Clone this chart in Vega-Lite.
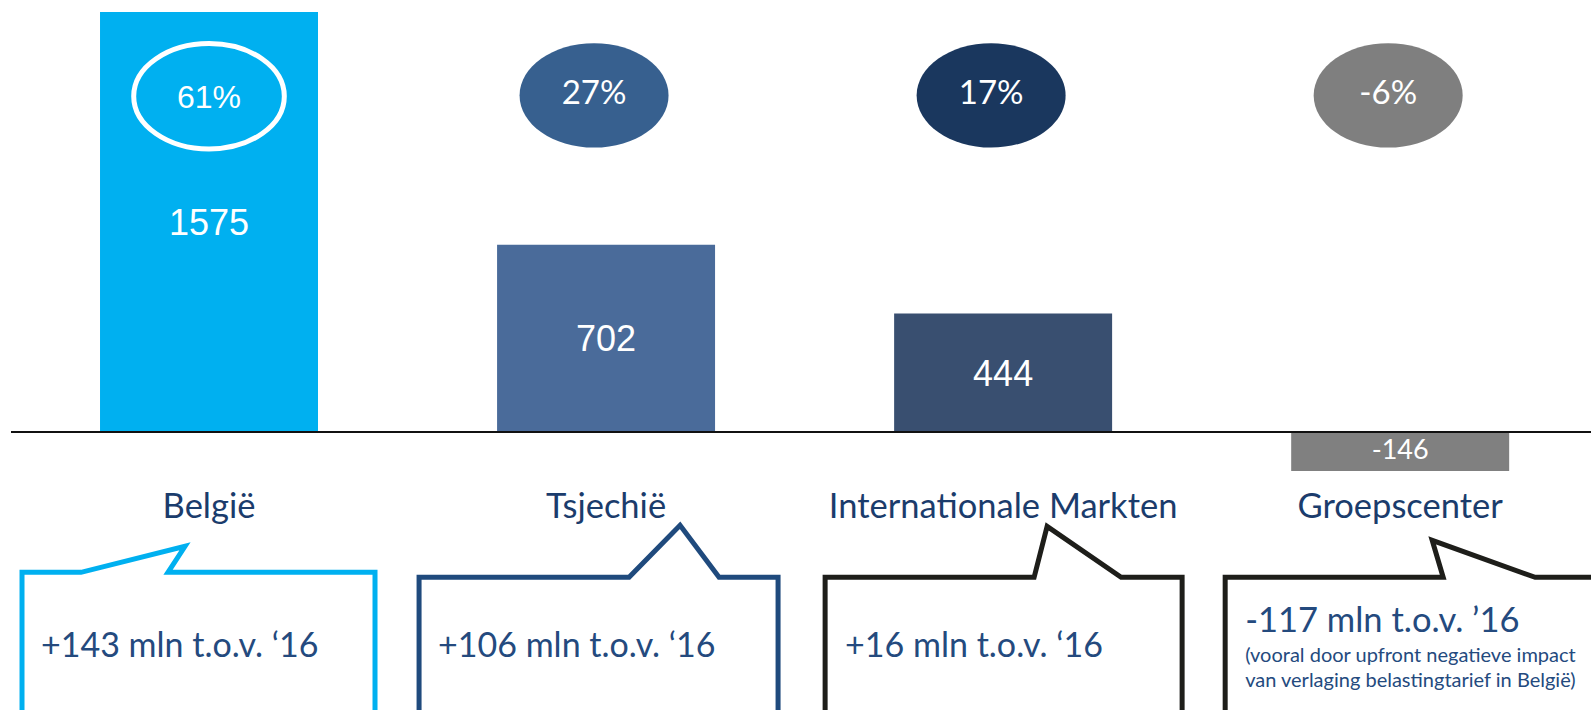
{
  "$schema": "https://vega.github.io/schema/vega-lite/v6.json",
  "width": 1591,
  "height": 710,
  "autosize": {"type": "none"},
  "padding": 0,
  "background": "white",
  "config": {"view": {"stroke": null}},
  "data": {"values": [
    {"cat": "België", "value": 1575, "share": "61%", "change": "+143 mln t.o.v. ‘16", "note": ""},
    {"cat": "Tsjechië", "value": 702, "share": "27%", "change": "+106 mln t.o.v. ‘16", "note": ""},
    {"cat": "Internationale Markten", "value": 444, "share": "17%", "change": "+16 mln t.o.v. ‘16", "note": ""},
    {"cat": "Groepscenter", "value": -146, "share": "-6%", "change": "-117 mln t.o.v. ’16", "note": "(vooral door upfront negatieve impact\nvan verlaging belastingtarief in België)"}
  ]},
  "transform": [{"calculate": "datum.value / 2", "as": "mid"}],
  "encoding": {
    "x": {"field": "cat", "type": "nominal", "axis": null, "scale": {"domain": ["België", "Tsjechië", "Internationale Markten", "Groepscenter"], "paddingInner": 0.451, "paddingOuter": 0.229, "align": 0.55}}
  },
  "layer": [
    {
      "mark": {"type": "bar"},
      "encoding": {
        "y": {"field": "value", "type": "quantitative", "axis": null, "scale": {"domain": [-1042.5, 1620], "nice": false, "zero": false}},
        "y2": {"datum": 0},
        "color": {"field": "cat", "type": "nominal", "legend": null, "scale": {"domain": ["België", "Tsjechië", "Internationale Markten", "Groepscenter"], "range": ["#00B0F0", "#4A6B9A", "#394F70", "#808080"]}}
      }
    },
    {
      "data": {"values": [{"v": 0}]},
      "mark": {"type": "rule", "color": "#111111", "strokeWidth": 2},
      "encoding": {
        "x": {"value": 11},
        "x2": {"value": 1591},
        "y": {"field": "v", "type": "quantitative", "axis": null, "scale": {"domain": [-1042.5, 1620], "nice": false, "zero": false}}
      }
    },
    {
      "transform": [{"filter": "datum.value > 0"}],
      "mark": {"type": "text", "font": "Liberation Sans", "fontSize": 36, "color": "white", "baseline": "middle", "align": "center", "dy": 2},
      "encoding": {
        "y": {"field": "mid", "type": "quantitative", "axis": null, "scale": {"domain": [-1042.5, 1620], "nice": false, "zero": false}},
        "text": {"field": "value", "type": "nominal"}
      }
    },
    {
      "transform": [{"filter": "datum.value < 0"}],
      "mark": {"type": "text", "font": "Lato", "fontSize": 27, "color": "white", "baseline": "middle", "align": "center"},
      "encoding": {
        "y": {"field": "mid", "type": "quantitative", "axis": null, "scale": {"domain": [-1042.5, 1620], "nice": false, "zero": false}},
        "text": {"field": "value", "type": "nominal"}
      }
    },
    {
      "transform": [{"filter": "datum.cat == 'België'"}],
      "mark": {"type": "point", "shape": "M -1 0 A 1 0.7 0 1 0 1 0 A 1 0.7 0 1 0 -1 0 Z", "size": 22680, "filled": false, "stroke": "white", "strokeWidth": 5, "opacity": 1},
      "encoding": {
        "y": {"datum": 1259, "type": "quantitative", "axis": null, "scale": {"domain": [-1042.5, 1620], "nice": false, "zero": false}}
      }
    },
    {
      "transform": [{"filter": "datum.cat != 'België'"}],
      "mark": {"type": "point", "shape": "M -1 0 A 1 0.7 0 1 0 1 0 A 1 0.7 0 1 0 -1 0 Z", "size": 22201, "filled": true, "opacity": 1, "xOffset": -12, "strokeWidth": 0},
      "encoding": {
        "y": {"datum": 1262, "type": "quantitative", "axis": null, "scale": {"domain": [-1042.5, 1620], "nice": false, "zero": false}},
        "fill": {"field": "cat", "type": "nominal", "legend": null, "scale": {"domain": ["Tsjechië", "Internationale Markten", "Groepscenter"], "range": ["#37608F", "#1A375E", "#7F7F7F"]}}
      }
    },
    {
      "transform": [{"filter": "datum.cat == 'België'"}],
      "mark": {"type": "text", "font": "Liberation Sans", "fontSize": 32, "color": "white", "baseline": "middle", "align": "center"},
      "encoding": {
        "y": {"datum": 1254, "type": "quantitative", "axis": null, "scale": {"domain": [-1042.5, 1620], "nice": false, "zero": false}},
        "text": {"field": "share", "type": "nominal"}
      }
    },
    {
      "transform": [{"filter": "datum.cat != 'België'"}],
      "mark": {"type": "text", "font": "Lato", "fontSize": 33, "color": "white", "baseline": "middle", "align": "center", "xOffset": -12},
      "encoding": {
        "y": {"datum": 1267, "type": "quantitative", "axis": null, "scale": {"domain": [-1042.5, 1620], "nice": false, "zero": false}},
        "text": {"field": "share", "type": "nominal"}
      }
    },
    {
      "mark": {"type": "text", "font": "Lato", "fontSize": 34.5, "color": "#1B3C6C", "baseline": "alphabetic", "align": "center"},
      "encoding": {
        "y": {"datum": -322.5, "type": "quantitative", "axis": null, "scale": {"domain": [-1042.5, 1620], "nice": false, "zero": false}},
        "text": {"field": "cat", "type": "nominal"}
      }
    },
    {
      "mark": {"type": "point", "size": 4, "filled": false, "strokeWidth": 5, "opacity": 1},
      "encoding": {
        "y": {"datum": -545, "type": "quantitative", "axis": null, "scale": {"domain": [-1042.5, 1620], "nice": false, "zero": false}},
        "shape": {"field": "cat", "type": "nominal", "legend": null, "scale": {"domain": ["België", "Tsjechië", "Internationale Markten", "Groepscenter"], "range": [
          "M -187 183 L -187 -5 L -128 -5 L -24 -31 L -41 -5 L 166 -5 L 166 183",
          "M -187 183 L -187 0 L 23 0 L 74 -52 L 113 0 L 172 0 L 172 183",
          "M -178 183 L -178 0 L 31 0 L 44 -51 L 118 0 L 179 0 L 179 183",
          "M -175 183 L -175 0 L 43 0 L 32 -37 L 135 0 L 210 0"
        ]}},
        "stroke": {"field": "cat", "type": "nominal", "legend": null, "scale": {"domain": ["België", "Tsjechië", "Internationale Markten", "Groepscenter"], "range": ["#00B0F0", "#1F4A7D", "#1E1E1A", "#1E1E1A"]}}
      }
    },
    {
      "transform": [{"filter": "datum.cat == 'België' || datum.cat == 'Tsjechië'"}],
      "mark": {"type": "text", "font": "Lato", "fontSize": 34, "color": "#244A7E", "baseline": "alphabetic", "align": "left", "dx": -168},
      "encoding": {
        "y": {"datum": -842.6, "type": "quantitative", "axis": null, "scale": {"domain": [-1042.5, 1620], "nice": false, "zero": false}},
        "text": {"field": "change", "type": "nominal"}
      }
    },
    {
      "transform": [{"filter": "datum.cat == 'Internationale Markten'"}],
      "mark": {"type": "text", "font": "Lato", "fontSize": 34, "color": "#244A7E", "baseline": "alphabetic", "align": "left", "dx": -158},
      "encoding": {
        "y": {"datum": -842.6, "type": "quantitative", "axis": null, "scale": {"domain": [-1042.5, 1620], "nice": false, "zero": false}},
        "text": {"field": "change", "type": "nominal"}
      }
    },
    {
      "transform": [{"filter": "datum.cat == 'Groepscenter'"}],
      "mark": {"type": "text", "font": "Lato", "fontSize": 34.5, "color": "#244A7E", "baseline": "alphabetic", "align": "left", "dx": -155},
      "encoding": {
        "y": {"datum": -748.9, "type": "quantitative", "axis": null, "scale": {"domain": [-1042.5, 1620], "nice": false, "zero": false}},
        "text": {"field": "change", "type": "nominal"}
      }
    },
    {
      "transform": [{"filter": "datum.cat == 'Groepscenter'"}],
      "mark": {"type": "text", "font": "Lato", "fontSize": 20, "color": "#244A7E", "baseline": "alphabetic", "align": "left", "dx": -155, "lineBreak": "\n", "lineHeight": 25},
      "encoding": {
        "y": {"datum": -861.4, "type": "quantitative", "axis": null, "scale": {"domain": [-1042.5, 1620], "nice": false, "zero": false}},
        "text": {"field": "note", "type": "nominal"}
      }
    }
  ]
}
